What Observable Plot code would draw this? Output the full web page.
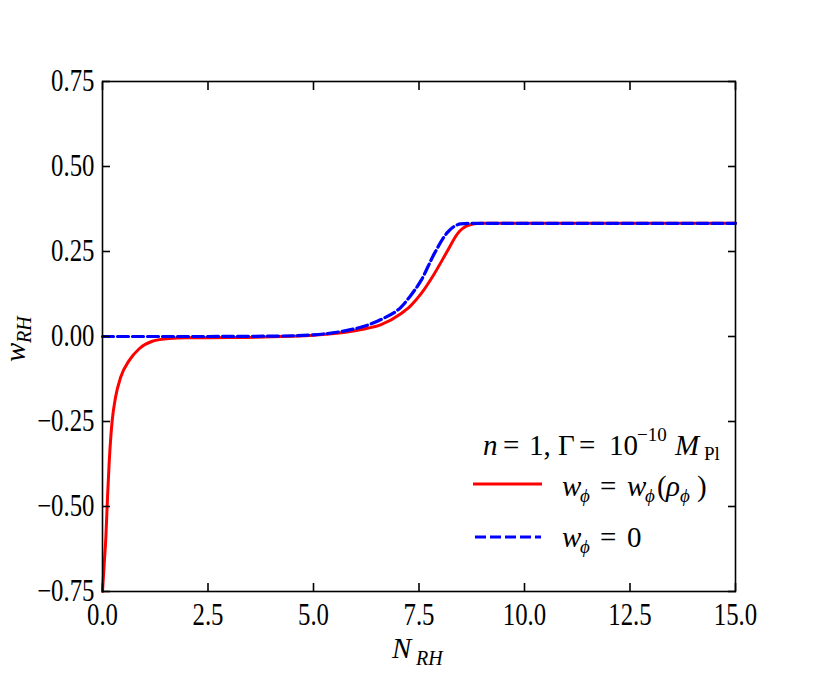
<!DOCTYPE html>
<html>
<head>
<meta charset="utf-8">
<script src="https://cdn.jsdelivr.net/npm/d3@7"></script>
<script src="https://cdn.jsdelivr.net/npm/@observablehq/plot@0.6"></script>
<style>
  html, body { margin: 0; padding: 0; background: white; }
  #wrap { position: relative; width: 817px; height: 676px; }
  #overlay { position: absolute; left: 0; top: 0; pointer-events: none; }
  #overlay text { font-family: "Liberation Serif", "DejaVu Serif", serif; fill: black; }
</style>
</head>
<body>
<div id="wrap"></div>
<script>
// ---- data ----
const N_red = [0, 0.04, 0.08, 0.12, 0.157, 0.2, 0.23, 0.31, 0.43, 0.63, 0.87, 1.18, 1.58, 2.0, 3.0, 4.0, 4.5, 5.0, 5.8, 6.2, 6.6, 7.07, 7.3, 7.55, 7.86, 8.18, 8.41, 8.65, 8.96, 15];
const w_red = [-0.75, -0.67, -0.59, -0.47, -0.374, -0.29, -0.247, -0.178, -0.12, -0.071, -0.036, -0.014, -0.006, -0.004, -0.003, -0.001, 0.001, 0.004, 0.013, 0.022, 0.035, 0.067, 0.09, 0.126, 0.184, 0.253, 0.302, 0.326, 0.333, 0.333];
const N_blue = [0, 2.0, 4.0, 5.0, 5.8, 6.2, 6.6, 7.07, 7.3, 7.55, 7.86, 8.18, 8.49, 8.81, 15];
const w_blue = [0, 0, 0.001, 0.005, 0.018, 0.03, 0.05, 0.086, 0.12, 0.165, 0.243, 0.307, 0.331, 0.333, 0.333];
const xTicks = [0, 2.5, 5, 7.5, 10, 12.5, 15];
const yTicks = [-0.75, -0.5, -0.25, 0, 0.25, 0.5, 0.75];

const red = N_red.map((N, i) => ({N, w: w_red[i]}));
const blue = N_blue.map((N, i) => ({N, w: w_blue[i]}));

const fmtY = d => (d < 0 ? "\u2212" : "") + Math.abs(d).toFixed(2);
const fmtX = d => d.toFixed(1);
const FONT = "Liberation Serif";

const chart = Plot.plot({
  width: 817, height: 676,
  marginLeft: 102, marginRight: 82, marginTop: 81, marginBottom: 85,
  x: {domain: [0, 15]},
  y: {domain: [-0.75, 0.75]},
  style: {fontFamily: FONT, fontSize: "31px", background: "white", color: "black", overflow: "visible"},
  marks: [
    Plot.line(red, {x: "N", y: "w", stroke: "#ff0000", strokeWidth: 3, curve: "monotone-x"}),
    Plot.line(blue, {x: "N", y: "w", stroke: "#0000ff", strokeWidth: 3.2, strokeDasharray: "11,4", curve: "monotone-x"}),
    Plot.frame({stroke: "black", strokeWidth: 1.6}),
    Plot.axisX(xTicks, {anchor: "bottom", tickSize: -8, tickPadding: 19, tickFormat: fmtX, strokeWidth: 1.6, label: null, fontFamily: FONT, fontSize: 31}),
    Plot.axisX(xTicks, {anchor: "top", tickSize: -8, tickFormat: () => "", strokeWidth: 1.6, label: null}),
    Plot.axisY(yTicks, {anchor: "left", tickSize: -8, tickPadding: 16, tickFormat: fmtY, strokeWidth: 1.6, label: null, fontFamily: FONT, fontSize: 31}),
    Plot.axisY(yTicks, {anchor: "right", tickSize: -8, tickFormat: () => "", strokeWidth: 1.6, label: null})
  ]
});

// condense tick label glyphs (Computer-Modern-like narrow look)
d3.select(chart).selectAll("text").each(function() {
  const t = this.getAttribute("transform");
  if (t) {
    this.setAttribute("transform", t + " scale(0.8,1)");
  } else {
    const x = +this.getAttribute("x") || 0, y = +this.getAttribute("y") || 0;
    this.removeAttribute("x"); this.removeAttribute("y");
    this.setAttribute("transform", `translate(${x},${y}) scale(0.8,1)`);
  }
});

const wrap = document.getElementById("wrap");
wrap.appendChild(chart);

// overlay: axis titles and legend with math-style text
const ov = d3.select(wrap).append("svg").attr("id", "overlay").attr("width", 817).attr("height", 676);

function tok(g, x, y, str, opts = {}) {
  g.append("text").attr("x", x).attr("y", y)
    .attr("font-size", opts.size || 29)
    .attr("font-style", opts.italic ? "italic" : "normal")
    .text(str);
}

// x-axis title N_RH
tok(ov, 392, 658, "N", {italic: true, size: 29});
tok(ov, 416, 665, "RH", {italic: true, size: 20});

// y-axis title w_RH (rotated)
const gy = ov.append("g").attr("transform", "translate(25,362) rotate(-90)");
tok(gy, 0, 0, "w", {italic: true, size: 29});
tok(gy, 19, 6, "RH", {italic: true, size: 20});

// legend title
tok(ov, 483, 455, "n", {italic: true});
tok(ov, 503, 455, "=");
tok(ov, 529, 455, "1,");
tok(ov, 558, 455, "\u0393");
tok(ov, 579, 455, "=");
tok(ov, 609, 455, "10");
tok(ov, 637, 441, "\u221210", {size: 19});
tok(ov, 675, 455, "M", {italic: true});
tok(ov, 704, 460, "Pl", {size: 19});

// legend row 1
ov.append("line").attr("x1", 473).attr("x2", 542).attr("y1", 484).attr("y2", 484)
  .attr("stroke", "#ff0000").attr("stroke-width", 3);
tok(ov, 562, 496, "w", {italic: true});
tok(ov, 580, 502, "\u03d5", {italic: true, size: 19});
tok(ov, 600, 496, "=");
tok(ov, 627, 496, "w", {italic: true});
tok(ov, 645, 502, "\u03d5", {italic: true, size: 19});
tok(ov, 657, 496, "(");
tok(ov, 666, 496, "\u03c1", {italic: true});
tok(ov, 680, 502, "\u03d5", {italic: true, size: 19});
tok(ov, 697, 496, ")");

// legend row 2
ov.append("line").attr("x1", 475).attr("x2", 541).attr("y1", 537).attr("y2", 537)
  .attr("stroke", "#0000ff").attr("stroke-width", 3.2).attr("stroke-dasharray", "11,4");
tok(ov, 562, 547, "w", {italic: true});
tok(ov, 580, 553, "\u03d5", {italic: true, size: 19});
tok(ov, 600, 547, "=");
tok(ov, 627, 547, "0");
</script>
</body>
</html>
